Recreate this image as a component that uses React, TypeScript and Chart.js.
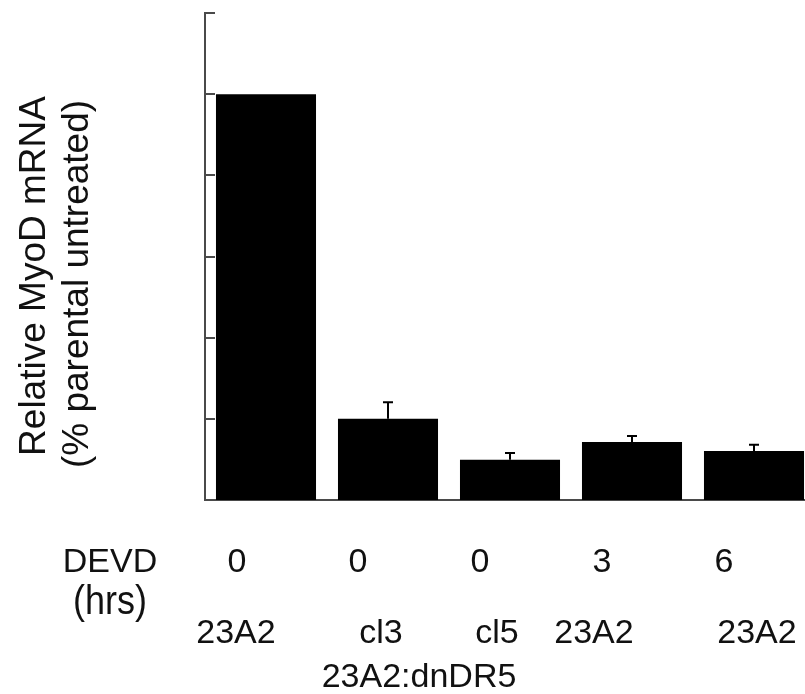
import React, { useEffect, useRef } from "react";
import { Chart, registerables } from "chart.js";

Chart.register(...registerables);

// ---- Data ----
const categories = ["23A2 0h", "cl3 0h", "cl5 0h", "23A2 3h", "23A2 6h"];
const devdHours = ["0", "0", "0", "3", "6"];
const cellLines = ["23A2", "cl3", "cl5", "23A2", "23A2"];
const groupLabel = "23A2:dnDR5";
const myodValues = [100, 20, 9.9, 14.3, 12.1];
const myodErrors = [0, 4.1, 1.7, 1.5, 1.5];
const yTickValues = [0, 20, 40, 60, 80, 100, 120];
const yTitleLines = ["Relative MyoD mRNA", "(% parental untreated)"];

// label offsets relative to bar centre (layout only)
const hourOffsets = [-29, -30, -30, -30, -30];
const cellOffsets = [-30, -7, -13, -38, 3];

const FONT = "'Liberation Sans', Arial, sans-serif";
const AXIS_COLOR = "#4a4a4a";
const TEXT_COLOR = "#111";

const decorPlugin = {
  id: "decor",
  afterDatasetsDraw(chart: any) {
    const ctx = chart.ctx;
    const xs = chart.scales.x;
    const ys = chart.scales.y;
    const meta = chart.getDatasetMeta(0);
    ctx.save();
    // inward tick marks
    ctx.strokeStyle = AXIS_COLOR;
    ctx.lineWidth = 2;
    const left = chart.chartArea.left;
    yTickValues.forEach((v) => {
      const y = Math.round(ys.getPixelForValue(v));
      ctx.beginPath();
      ctx.moveTo(left - 1, y);
      ctx.lineTo(left + 10, y);
      ctx.stroke();
    });
    // error bars (upper only)
    ctx.strokeStyle = "#000";
    ctx.lineWidth = 2;
    myodValues.forEach((v, i) => {
      const e = myodErrors[i];
      if (!e) return;
      const x = meta.data[i].x;
      const yb = ys.getPixelForValue(v);
      const yt = ys.getPixelForValue(v + e);
      ctx.beginPath();
      ctx.moveTo(x, yb);
      ctx.lineTo(x, yt);
      ctx.moveTo(x - 5, yt);
      ctx.lineTo(x + 5, yt);
      ctx.stroke();
    });
    ctx.restore();
  },
  afterDraw(chart: any) {
    const ctx = chart.ctx;
    const xs = chart.scales.x;
    const area = chart.chartArea;
    ctx.save();
    ctx.fillStyle = TEXT_COLOR;
    ctx.textBaseline = "alphabetic";
    ctx.textAlign = "center";
    ctx.font = `34px ${FONT}`;
    const base = area.bottom;
    // row 1: DEVD hours
    ctx.fillText("DEVD", 110, base + 72);
    devdHours.forEach((h, i) => {
      const x = xs.getPixelForValue(i) + hourOffsets[i];
      ctx.fillText(h, x, base + 72);
    });
    ctx.save();
    ctx.font = `36px ${FONT}`;
    ctx.translate(110, base + 114);
    ctx.scale(1, 1.15);
    ctx.fillText("(hrs)", 0, 0);
    ctx.restore();
    // row 2: cell lines
    cellLines.forEach((c, i) => {
      const x = xs.getPixelForValue(i) + cellOffsets[i];
      ctx.fillText(c, x, base + 143);
    });
    // group label
    const gx = (xs.getPixelForValue(1) + xs.getPixelForValue(2)) / 2 - 30;
    ctx.fillText(groupLabel, gx, base + 187);
    // y title (rotated, two lines)
    ctx.font = `37px ${FONT}`;
    ctx.save();
    ctx.translate(45, 276);
    ctx.rotate(-Math.PI / 2);
    ctx.fillText(yTitleLines[0], 0, 0);
    ctx.restore();
    ctx.save();
    ctx.translate(88, 284);
    ctx.rotate(-Math.PI / 2);
    ctx.fillText(yTitleLines[1], 0, 0);
    ctx.restore();
    ctx.restore();
  },
};

export default function App() {
  const canvasRef = useRef<HTMLCanvasElement | null>(null);

  useEffect(() => {
    if (!canvasRef.current) return;
    const chart = new Chart(canvasRef.current, {
      type: "bar",
      data: {
        labels: categories,
        datasets: [
          {
            data: myodValues,
            backgroundColor: "#000",
            borderWidth: 0,
            barPercentage: 0.82,
            categoryPercentage: 1.0,
          },
        ],
      },
      options: {
        responsive: false,
        animation: false,
        events: [],
        layout: { padding: { left: 205, top: 13, right: 0, bottom: 194 } },
        plugins: {
          legend: { display: false },
          tooltip: { enabled: false },
          title: { display: false },
        },
        scales: {
          x: {
            grid: { display: false, drawTicks: false },
            ticks: { display: false },
            border: { display: true, color: AXIS_COLOR, width: 2 },
          },
          y: {
            min: 0,
            max: 120,
            ticks: { display: false, stepSize: 20 },
            grid: { display: false, drawTicks: false },
            border: { display: true, color: AXIS_COLOR, width: 2 },
          },
        },
      },
      plugins: [decorPlugin],
    } as any);
    return () => chart.destroy();
  }, []);

  return (
    <div
      style={{
        position: "fixed",
        left: 0,
        top: 0,
        width: 805,
        height: 694,
        overflow: "hidden",
        background: "#fff",
      }}
    >
      <canvas
        ref={canvasRef}
        width={815}
        height={694}
        style={{ display: "block", width: 815, height: 694 }}
      />
    </div>
  );
}
